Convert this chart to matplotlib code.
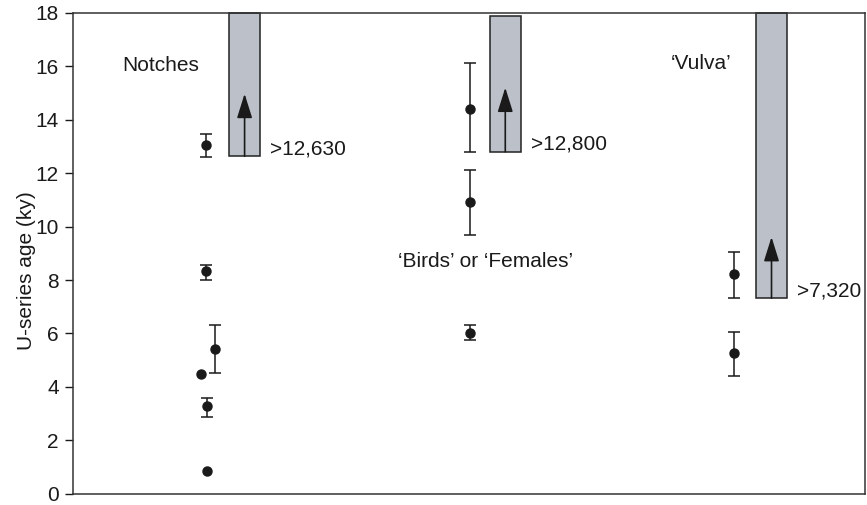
import matplotlib
matplotlib.use("Agg")
import matplotlib.pyplot as plt
import numpy as np

plt.rcParams['font.family'] = ['Liberation Sans', 'DejaVu Sans']

# ---- data (ky) ----
groups = ["Notches", "\u2018Birds\u2019 or \u2018Females\u2019", "\u2018Vulva\u2019"]

notches_age = [13.04, 8.32, 5.41, 4.48, 3.27, 0.84]
notches_lo = [12.60, 8.01, 4.51, np.nan, 2.86, np.nan]
notches_hi = [13.47, 8.57, 6.32, np.nan, 3.60, np.nan]

birds_age = [14.40, 10.91, 6.01]
birds_lo = [12.80, 9.68, 5.75]
birds_hi = [16.12, 12.11, 6.30]

vulva_age = [8.22, 5.25]
vulva_lo = [7.31, 4.41]
vulva_hi = [9.05, 6.07]

min_ages = [12.63, 12.80, 7.32]
min_labels = [">12,630", ">12,800", ">7,320"]
box_tops = [18.0, 17.88, 18.0]
arrow_tips = [14.97, 15.2, 9.61]

# ---- layout (positions only) ----
notches_x = [1.683, 1.683, 1.80, 1.62, 1.70, 1.70]
birds_x = [5.016, 5.016, 5.016]
vulva_x = [8.35, 8.35]
box_x = [2.17, 5.46, 8.82]
box_w = 0.39

fig = plt.figure(figsize=(8.67, 5.05), dpi=100)
ax = fig.add_axes([0.0838, 0.0222, 0.9139, 0.9525])
ax.set_xlim(0, 10)
ax.set_ylim(0, 18)

fill = '#bcc1c9'
for bx, lo, top, tip, lab in zip(box_x, min_ages, box_tops, arrow_tips, min_labels):
    ax.add_patch(plt.Rectangle((bx - box_w / 2, lo), box_w, top - lo,
                               facecolor=fill, edgecolor='#222222', lw=1.1,
                               zorder=2, clip_on=False))
    ax.annotate('', xy=(bx, tip), xytext=(bx, lo),
                arrowprops=dict(arrowstyle='-|>,head_length=1.5,head_width=0.47',
                                color='#1a1a1a', lw=1.2, shrinkA=0, shrinkB=0),
                zorder=3)
    ax.text(bx + box_w / 2 + 0.13, lo + 0.28, lab, fontsize=15,
            ha='left', va='center', color='#1a1a1a')

def plot_group(xs, ages, lo, hi):
    ages = np.array(ages, float)
    lo = np.array(lo, float)
    hi = np.array(hi, float)
    has = ~np.isnan(lo)
    xs = np.array(xs)
    ax.errorbar(xs[has], ages[has],
                yerr=[ages[has] - lo[has], hi[has] - ages[has]],
                fmt='o', color='#1a1a1a', ms=6.5, capsize=4.5,
                elinewidth=1.1, capthick=1.1, zorder=4)
    ax.plot(xs[~has], ages[~has], 'o', color='#1a1a1a', ms=6.5, zorder=4)

plot_group(notches_x, notches_age, notches_lo, notches_hi)
plot_group(birds_x, birds_age, birds_lo, birds_hi)
plot_group(vulva_x, vulva_age, vulva_lo, vulva_hi)

ax.text(0.63, 16.02, groups[0], fontsize=15, ha='left', va='center', color='#1a1a1a')
ax.text(4.10, 8.70, groups[1], fontsize=15, ha='left', va='center', color='#1a1a1a')
ax.text(7.55, 16.12, groups[2], fontsize=15, ha='left', va='center', color='#1a1a1a')

ax.set_yticks(np.arange(0, 19, 2))
ax.set_xticks([])
ax.tick_params(axis='y', direction='out', length=6, width=1.0,
               labelsize=15, colors='#1a1a1a', pad=4)
ax.set_ylabel('U-series age (ky)', fontsize=15, color='#1a1a1a')
ax.yaxis.set_label_coords(-0.046, 0.463)
for s in ax.spines.values():
    s.set_linewidth(1.1)
    s.set_color('#333333')

fig.savefig('out.png', dpi=100)
